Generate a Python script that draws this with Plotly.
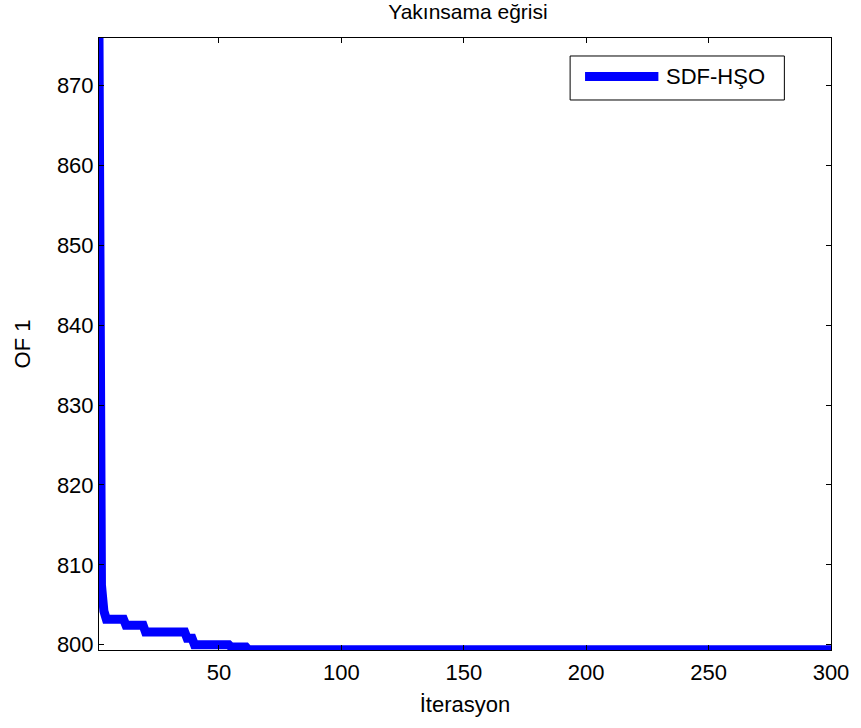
import plotly.graph_objects as go

iterations = [1, 2, 3, 4, 11, 12, 19, 20, 36, 37, 39, 40, 54, 55, 61, 62, 300]
of1_values = [876.0, 807.5, 804.2, 803.2, 803.2, 802.45, 802.45, 801.6, 801.6, 800.8, 800.8,
              800.0, 800.0, 799.7, 799.7, 799.36, 799.36]

series_name = "SDF-HŞO"
title_text = "Yakınsama eğrisi"
x_label = "İterasyon"
y_label = "OF 1"
x_ticks = [50, 100, 150, 200, 250, 300]
y_ticks = [800, 810, 820, 830, 840, 850, 860, 870]

FONT = "Liberation Sans, Arial, sans-serif"
LINE_COLOR = "#0000ff"

fig = go.Figure()
fig.add_trace(go.Scatter(
    x=iterations, y=of1_values, mode="lines", name=series_name,
    line=dict(color=LINE_COLOR, width=9), showlegend=False,
))

axis_common = dict(
    showline=True, linecolor="black", linewidth=1, mirror="ticks",
    ticks="inside", ticklen=5, tickcolor="black", tickwidth=1,
    showgrid=False, zeroline=False,
    tickfont=dict(family=FONT, size=22, color="black"),
)

# MATLAB-style legend box (decoration, in plot-area paper coordinates)
shapes = [
    dict(type="rect", xref="paper", yref="paper", x0=0.6436, x1=0.9363, y0=0.8987, y1=0.9706,
         line=dict(color="black", width=1), fillcolor="white", layer="above"),
    dict(type="line", xref="paper", yref="paper", x0=0.6640, x1=0.7642, y0=0.9371, y1=0.9371,
         line=dict(color=LINE_COLOR, width=9), layer="above"),
]
annotations = [
    dict(text=series_name, xref="paper", yref="paper", x=0.7724, y=0.9371,
         xanchor="left", yanchor="middle", showarrow=False,
         font=dict(family=FONT, size=22, color="black")),
]

fig.update_layout(
    width=861, height=728,
    margin=dict(l=99, r=24, t=38, b=78),
    paper_bgcolor="white", plot_bgcolor="white",
    font=dict(family=FONT, size=22, color="black"),
    title=dict(text=title_text, x=0.5435, xanchor="center", y=0.9945, yanchor="top",
               font=dict(family=FONT, size=21, color="black")),
    xaxis=dict(range=[1, 300], tickvals=x_ticks, ticklabelstandoff=3, **axis_common,
               title=dict(text=x_label, font=dict(family=FONT, size=22), standoff=12)),
    yaxis=dict(range=[799.335, 875.98], tickvals=y_ticks, **axis_common,
               title=dict(text=y_label, font=dict(family=FONT, size=22), standoff=20)),
    shapes=shapes,
    annotations=annotations,
    showlegend=False,
)

fig.write_html("out.html", config={"displayModeBar": False},
               post_script="document.body.style.margin='0';")
